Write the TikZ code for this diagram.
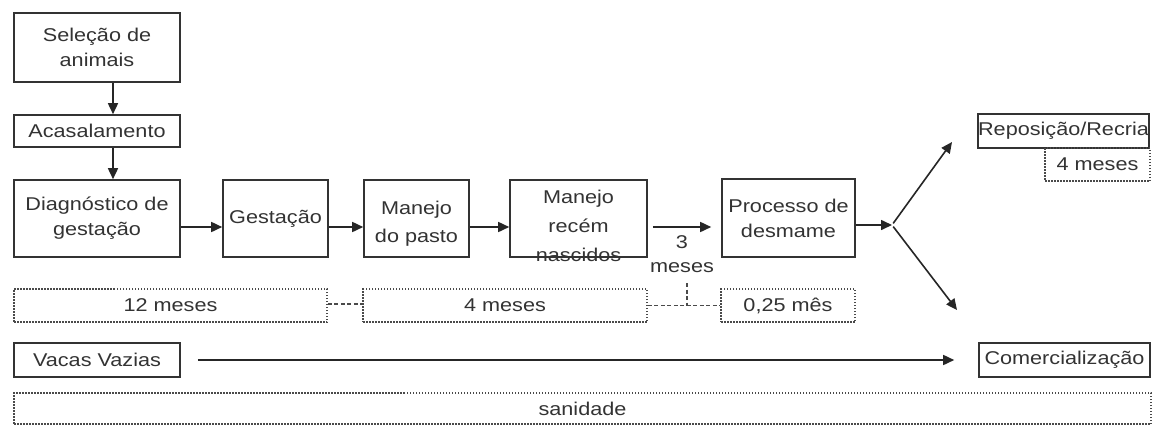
\documentclass[tikz,border=0pt]{standalone}
\usepackage{fontspec}
\setmainfont{Liberation Sans}[FakeStretch=1.17]
\usetikzlibrary{arrows.meta}
\definecolor{txt}{HTML}{333333}
\definecolor{edge}{HTML}{333333}
\definecolor{dotc}{HTML}{4A4A4A}
\tikzset{
  box/.style={draw=edge, line width=1.6pt, text=txt, align=center, inner sep=0pt,
    font=\fontsize{18.5}{25}\selectfont},
  dotbox/.style={draw=dotc, line width=1.5pt, dash pattern=on 1.5pt off 1.5pt, text=txt,
    align=center, inner sep=0pt, font=\fontsize{18.5}{25}\selectfont},
  lbl/.style={text=txt, align=center, inner sep=0pt, font=\fontsize{18.5}{25}\selectfont},
  arr/.style={draw=black!85, line width=1.6pt, -{Triangle[length=11pt,width=10pt]}},
  dashc/.style={draw=dotc, line width=1.4pt, dash pattern=on 4pt off 2.5pt},
}
\begin{document}
\begin{tikzpicture}[x=1pt,y=-1pt]
\useasboundingbox[fill=white] (0,0) rectangle (1153,426);

\node[box, minimum width=166pt, minimum height=69pt] (sel) at (97,47.5) {Seleção de\\animais};
\node[box, minimum width=166pt, minimum height=32pt] (aca) at (97,131) {Acasalamento};
\node[box, minimum width=166pt, minimum height=77pt] (diag) at (97,218.5) {Diagnóstico de\\gestação};
\node[box, minimum width=105pt, minimum height=77pt] (gest) at (275.5,218.5) {Gestação};
\node[box, minimum width=105pt, minimum height=77pt] (pasto) at (416.5,218.5) {};
\node[lbl, font=\fontsize{18.5}{28}\selectfont] (pastot) at (416.5,224) {Manejo\\do pasto};
\node[box, minimum width=137pt, minimum height=77pt] (recem) at (578.5,218.5) {};
\node[lbl, font=\fontsize{18.5}{29}\selectfont] (recemt) at (578.5,226) {Manejo\\recém\\nascidos};
\node[box, minimum width=133pt, minimum height=78pt] (proc) at (788.5,218) {Processo de\\desmame};

\node[box, minimum width=171pt, minimum height=34pt] (rep) at (1063.5,131) {Reposição/Recria};
\node[dotbox, minimum width=105pt, minimum height=33pt] (rep4) at (1097.5,164.5) {4 meses};

\node[dotbox, minimum width=313pt, minimum height=33pt] (d12) at (170.5,305.5) {12 meses};
\node[dotbox, minimum width=284pt, minimum height=33pt] (d4) at (505,305.5) {4 meses};
\node[dotbox, minimum width=134pt, minimum height=33pt] (d025) at (788,305.5) {0,25 mês};

\node[lbl] (tres) at (682,242) {3};
\node[lbl] (meses) at (682,268) {meses};

\node[box, minimum width=166pt, minimum height=34pt] (vacas) at (97,360) {Vacas Vazias};
\node[box, minimum width=171pt, minimum height=34pt] (com) at (1064.5,360) {Comercialização};

\node[dotbox, minimum width=1137pt, minimum height=31pt] (san) at (582.5,408.5) {sanidade};

% helper coordinates
\coordinate (ax) at (113,0);
\coordinate (ay) at (0,227);
\coordinate (fork) at (892,225);
\coordinate (up) at (952,142);
\coordinate (down) at (957,310);
\coordinate (vx) at (687,283);

\draw[arr] (sel.south -| ax) -- (aca.north -| ax);
\draw[arr] (aca.south -| ax) -- (diag.north -| ax);
\draw[arr] (diag.east |- ay) -- (gest.west |- ay);
\draw[arr] (gest.east |- ay) -- (pasto.west |- ay);
\draw[arr] (pasto.east |- ay) -- (recem.west |- ay);
\draw[arr, shorten <=5pt, shorten >=10pt] (recem.east |- ay) -- (proc.west |- ay);
\draw[arr] (proc.east |- fork) -- (fork);
\draw[arr, shorten <=2pt] (fork) -- (up);
\draw[arr, shorten <=2pt] (fork) -- (down);
\draw[arr, shorten <=17pt, shorten >=24pt] (vacas.east) -- (com.west);

\draw[dashc] (d12.east |- 0,304) -- (d4.west |- 0,304);
\draw[dashc] (d4.east) -- (d025.west);
\draw[dashc] (vx) -- (vx |- d4.east);
\end{tikzpicture}
\end{document}
